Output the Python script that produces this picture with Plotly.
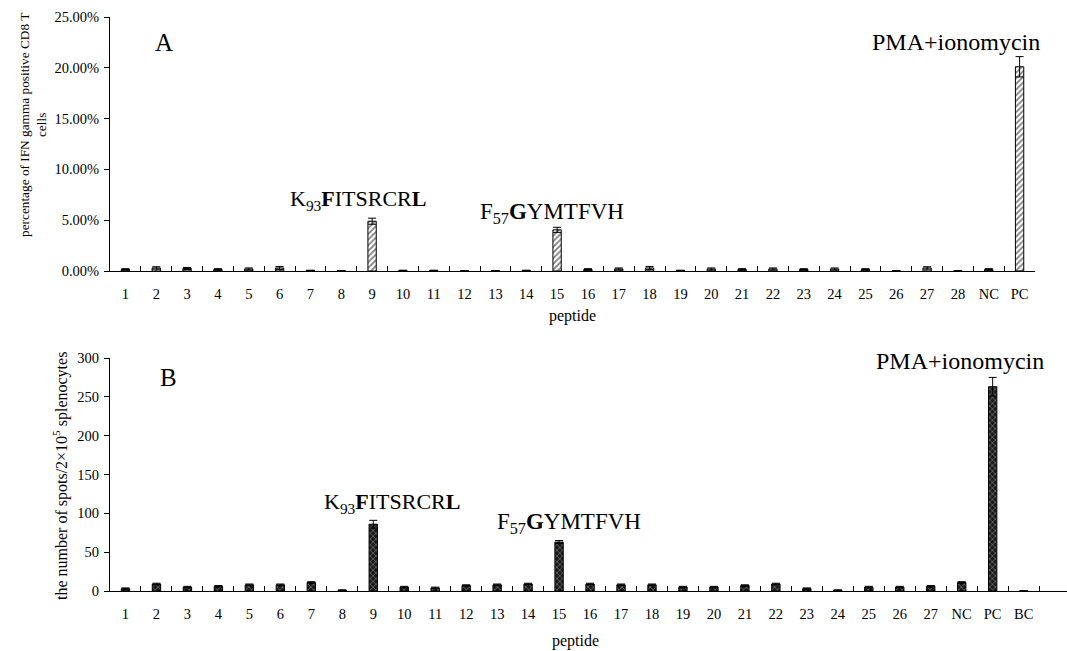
import plotly.graph_objects as go

W, H = 1067, 651

# Panel A data (percentage of IFN-gamma positive CD8 T cells)
cats_a = [str(i) for i in range(1, 29)] + ["NC", "PC"]
vals_a = [0.15, 0.30, 0.25, 0.15, 0.20, 0.30, 0.05, 0.03, 4.90, 0.05,
          0.05, 0.01, 0.01, 0.05, 4.05, 0.15, 0.20, 0.30, 0.05, 0.20,
          0.15, 0.20, 0.15, 0.20, 0.15, 0.01, 0.30, 0.01, 0.15, 20.1]
err_a = [0.08, 0.12, 0.10, 0.08, 0.10, 0.15, 0.03, 0.02, 0.30, 0.03,
         0.03, 0.01, 0.01, 0.03, 0.25, 0.08, 0.10, 0.15, 0.03, 0.10,
         0.08, 0.10, 0.08, 0.10, 0.08, 0.01, 0.12, 0.01, 0.08, 1.0]

# Panel B data (number of spots / 2x10^5 splenocytes)
cats_b = [str(i) for i in range(1, 28)] + ["NC", "PC", "BC"]
vals_b = [3, 9, 5, 6, 8, 8, 11, 1, 86, 5,
          4, 7, 8, 9, 63, 9, 8, 8, 5, 5,
          7, 9, 3, 1, 5, 5, 6, 11, 263, 0]
err_b = [1, 1, 1, 1, 1, 1, 1, 0.5, 5, 1,
         1, 1, 1, 1, 2, 1, 1, 1, 1, 1,
         1, 1, 1, 0.5, 1, 1, 1, 1, 12, 0]

FONT = "Liberation Serif"

fig = go.Figure()
fig.add_trace(go.Bar(
    x=cats_a, y=vals_a, width=0.27,
    marker=dict(color="white", line=dict(color="black", width=1),
                pattern=dict(shape="/", fgcolor="black", bgcolor="white",
                             size=4, solidity=0.45)),
    error_y=dict(type="data", array=err_a, visible=True, color="black",
                 thickness=1, width=4),
    xaxis="x", yaxis="y", showlegend=False))
fig.add_trace(go.Bar(
    x=cats_b, y=vals_b, width=0.27,
    marker=dict(color="#1a1a1a", line=dict(color="black", width=1),
                pattern=dict(shape="x", fgcolor="#e0e0e0", bgcolor="#1a1a1a",
                             size=4, solidity=0.3)),
    error_y=dict(type="data", array=err_b, visible=True, color="black",
                 thickness=1, width=4),
    xaxis="x2", yaxis="y2", showlegend=False))

def px_x(p):
    return p / W

def px_y(p):
    return 1 - p / H

axis_common = dict(showline=True, linecolor="black", linewidth=1,
                   showgrid=False, zeroline=False, automargin=False,
                   tickfont=dict(family=FONT, size=14.5, color="black"))

fig.update_layout(
    width=W, height=H,
    margin=dict(l=0, r=0, t=0, b=0, autoexpand=False),
    paper_bgcolor="white", plot_bgcolor="white",
    font=dict(family=FONT, color="black"),
    xaxis=dict(domain=[px_x(110), px_x(1035)], anchor="y", type="category",
               range=[-0.5, 29.5], ticks="inside", tickson="boundaries",
               ticklen=5, tickcolor="black", ticklabelstandoff=10,
               **axis_common),
    yaxis=dict(domain=[px_y(271), px_y(17)], anchor="x", range=[0, 25],
               dtick=5, tickformat=".2f", ticksuffix="%", ticks="outside",
               ticklen=5, tickcolor="black", ticklabelstandoff=2,
               **axis_common),
    xaxis2=dict(domain=[px_x(110), 1.0], anchor="y2", type="category",
                range=[-0.5, 30.4], ticks="inside", tickson="boundaries",
                ticklen=5, tickcolor="black", ticklabelstandoff=10,
                **axis_common),
    yaxis2=dict(domain=[px_y(591), px_y(358)], anchor="x2", range=[0, 300],
                dtick=50, ticks="outside", ticklen=5, tickcolor="black",
                ticklabelstandoff=2, **axis_common),
)

ann = []
def add(text, x, y, size, angle=0, xanchor="center"):
    ann.append(dict(text=text, x=px_x(x), y=px_y(y), xref="paper", yref="paper",
                    showarrow=False, textangle=angle, xanchor=xanchor,
                    yanchor="middle",
                    font=dict(family=FONT, size=size, color="black")))

# Panel A texts
add("A", 164, 43, 25)
add("K<sub>93</sub><b>F</b>ITSRCR<b>L</b>", 358, 200, 22)
add("F<sub>57</sub><b>G</b>YMTFVH", 552, 213, 23)
add("PMA+ionomycin", 956, 42, 24)
add("percentage of IFN gamma positive CD8 T<br>cells", 33, 125, 13.3, angle=-90)
add("peptide", 572, 316, 16)

# Panel B texts
add("B", 168, 377, 25)
add("K<sub>93</sub><b>F</b>ITSRCR<b>L</b>", 392, 503, 22)
add("F<sub>57</sub><b>G</b>YMTFVH", 569, 523, 23)
add("PMA+ionomycin", 960, 361, 24)
add("the number of spots/2×10<sup>5</sup> splenocytes", 60, 476, 16, angle=-90)
add("peptide", 575, 641, 16)

fig.update_layout(annotations=ann)

fig.write_html("out.html",
               config={"displayModeBar": False},
               post_script="document.body.style.margin='0px';"
                           "document.body.style.overflow='hidden';")
